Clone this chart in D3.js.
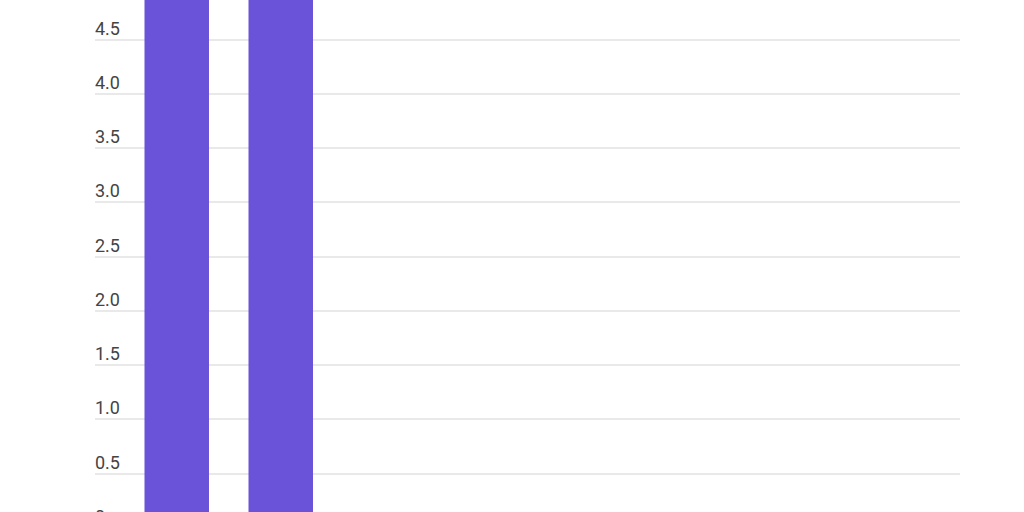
<!DOCTYPE html>
<html>
<head>
<meta charset="utf-8">
<script src="https://cdn.jsdelivr.net/npm/d3@7"></script>
<style>
  html, body { margin: 0; padding: 0; background: #fff; overflow: hidden; }
  svg { display: block; font-family: Roboto, "Noto Sans", sans-serif; }
</style>
</head>
<body>
<svg id="chart" width="1024" height="512"></svg>
<script>
// data
var categories = ["A", "B"];
var values = [5.2, 5.2];
var tickValues = [0, 0.5, 1, 1.5, 2, 2.5, 3, 3.5, 4, 4.5];
var tickLabels = ["0", "0.5", "1.0", "1.5", "2.0", "2.5", "3.0", "3.5", "4.0", "4.5"];

var width = 1024,
	height = 512,
	gridLeft = 95,
	gridRight = 960,
	barColor = "#6b53d9";

var svg = d3.select("#chart");

// the view is cropped: zero sits just below the bottom edge
var y = d3.scaleLinear()
	.domain([0, 4.864])
	.range([528, 0]);

var x = d3.scaleBand()
	.domain(categories)
	.range([144.5, 313])
	.paddingInner(0.38)
	.paddingOuter(0);

//gridlines
svg.append("g")
	.selectAll("line")
	.data(tickValues)
	.enter()
	.append("line")
	.attr("x1", gridLeft)
	.attr("x2", gridRight)
	.attr("y1", function(d) { return Math.round(y(d)); })
	.attr("y2", function(d) { return Math.round(y(d)); })
	.style("stroke", "#e2e2e2")
	.style("stroke-width", 1.6);

//tick labels
svg.append("g")
	.selectAll("text")
	.data(tickValues)
	.enter()
	.append("text")
	.attr("x", gridLeft)
	.attr("y", function(d) { return y(d) - 5; })
	.style("fill", "#444444")
	.style("font-size", "18px")
	.text(function(d, i) { return tickLabels[i]; });

//bars
svg.append("g")
	.selectAll("rect")
	.data(values)
	.enter()
	.append("rect")
	.attr("x", function(d, i) { return x(categories[i]); })
	.attr("y", function(d) { return y(d); })
	.attr("width", x.bandwidth())
	.attr("height", function(d) { return y(0) - y(d); })
	.style("fill", barColor);
</script>
</body>
</html>
